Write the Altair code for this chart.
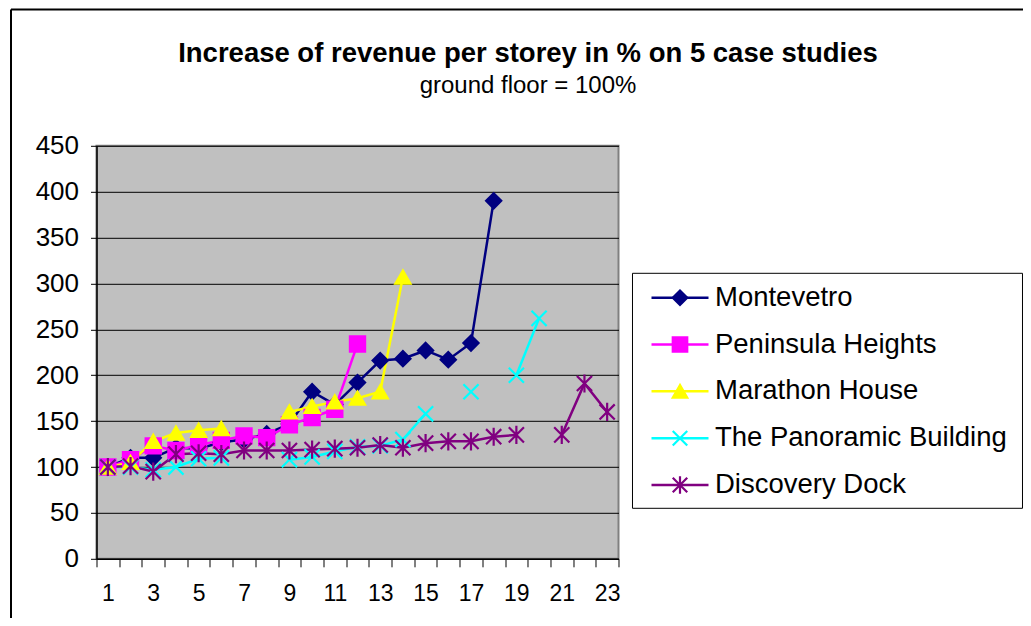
import altair as alt
import pandas as pd

floors = list(range(1, 24))
series_names = ["Montevetro", "Peninsula Heights", "Marathon House",
                "The Panoramic Building", "Discovery Dock"]
N = None
montevetro = [100, 110, 110, 121, 120, 127, 130, 136, 147, 182, 168, 192, 216, 218, 227, 217, 235, 390, N, N, N, N, N]
peninsula = [100, 108, 123, 118, 124, 129, 134, 132, 146, 154, 163, 234, N, N, N, N, N, N, N, N, N, N, N]
marathon = [100, 105, 128, 137, 140, 142, N, N, 160, 166, 171, 175, 182, 307, N, N, N, N, N, N, N, N, N]
panoramic = [100, 100, 97, 100, 109, 110, N, N, 108, 111, 117, 122, 123, 130, 158, N, 182, N, 200, 262, N, N, N]
discovery = [100, 101, 95, 114, 115, 114, 118, 118, 118, 119, 120, 121, 124, 121, 126, 128, 128, 133, 135, N, 135, 191, 160]
series_values = [montevetro, peninsula, marathon, panoramic, discovery]

colors = ["#000080", "#FF00FF", "#FFFF00", "#00FFFF", "#800080"]
shapes = ["diamond", "square", "triangle-up",
          "M-1,-1L1,1M-1,1L1,-1",
          "M-1,-1L1,1M-1,1L1,-1M0,-1.2L0,1.2"]
y_ticks = list(range(0, 451, 50))
title_text = "Increase of revenue per storey in % on 5 case studies"
subtitle_text = "ground floor = 100%"
FONT = "Liberation Sans"

rows = []
for si, (name, vals) in enumerate(zip(series_names, series_values)):
    seg = 0
    for f, v in zip(floors, vals):
        if v is None:
            seg += 1
            continue
        rows.append({"series": name, "order": si, "floor": f, "value": v,
                     "seg": f"{name}-{seg}"})
df = pd.DataFrame(rows)

color_scale = alt.Scale(domain=series_names, range=colors)
shape_scale = alt.Scale(domain=series_names, range=shapes)

x_enc = alt.X("floor:O", bandPosition=0.5,
              scale=alt.Scale(type="band", domain=floors, paddingInner=0, paddingOuter=0),
              axis=alt.Axis(title=None, tickBand="extent", labelAngle=0, grid=False,
                            labelExpr="datum.value % 2 == 1 ? datum.label : ''",
                            labelOverlap=False, domainColor="black", tickColor="black",
                            tickSize=8, labelFontSize=23, labelPadding=16,
                            labelFont=FONT, labelColor="black", domainWidth=1.5))
y_enc = alt.Y("value:Q", scale=alt.Scale(domain=[0, 450], nice=False, zero=True),
              axis=alt.Axis(title=None, values=y_ticks, grid=True, gridColor="black",
                            gridWidth=1, domainColor="black", tickColor="black",
                            tickSize=6, labelFontSize=26, labelPadding=12,
                            labelFont=FONT, labelColor="black", domainWidth=1.5))

base = alt.Chart(df)
lines = base.mark_line(strokeWidth=2.5).encode(
    x=x_enc, y=y_enc,
    color=alt.Color("series:N", scale=color_scale, legend=None),
    detail="seg:N",
)
points = base.mark_point(filled=True, size=230, strokeWidth=2.2, opacity=1).encode(
    x=x_enc, y=y_enc,
    color=alt.Color("series:N", scale=color_scale, legend=None),
    stroke=alt.Stroke("series:N", scale=color_scale, legend=None),
    shape=alt.Shape("series:N", scale=shape_scale, legend=None),
    order=alt.Order("order:Q"),
)
main = alt.layer(lines, points)

# legend (manual, built from the series names)
leg_df = pd.DataFrame({"series": series_names})
leg_y = alt.Y("series:N", axis=None,
              scale=alt.Scale(type="point", domain=series_names, range=[151.9, 339.2], padding=0))
leg_base = alt.Chart(leg_df)
leg_box = alt.Chart(pd.DataFrame({"a": [0]})).mark_rect(
    fill="white", stroke="black", strokeWidth=1).encode(
    x=alt.value(536), x2=alt.value(926), y=alt.value(127.5), y2=alt.value(362.5))
leg_line = leg_base.mark_rule(strokeWidth=2.5).encode(
    x=alt.value(555), x2=alt.value(612), y=leg_y,
    color=alt.Color("series:N", scale=color_scale, legend=None))
leg_pts = leg_base.mark_point(filled=True, size=210, strokeWidth=2.2, opacity=1).encode(
    x=alt.value(583.5), y=leg_y,
    color=alt.Color("series:N", scale=color_scale, legend=None),
    stroke=alt.Stroke("series:N", scale=color_scale, legend=None),
    shape=alt.Shape("series:N", scale=shape_scale, legend=None))
leg_txt = leg_base.mark_text(align="left", baseline="middle", fontSize=27.5, font=FONT,
                             color="black").encode(
    x=alt.value(618.5), y=leg_y, text="series:N")
legend = alt.layer(leg_line, leg_pts, leg_txt)

# titles
one = pd.DataFrame({"t": [title_text], "s": [subtitle_text]})
title = alt.Chart(one).mark_text(align="center", baseline="alphabetic", fontSize=27.5,
                                 fontWeight="bold", font=FONT, color="black").encode(
    x=alt.value(431.5), y=alt.value(-83.8), text="t:N")
subtitle = alt.Chart(one).mark_text(align="center", baseline="alphabetic", fontSize=24,
                                    font=FONT, color="black").encode(
    x=alt.value(431.5), y=alt.value(-52.8), text="s:N")

# outer frame
frame_left = alt.Chart(pd.DataFrame({"a": [0]})).mark_rule(color="black", strokeWidth=2).encode(
    x=alt.value(-85.5), y=alt.value(-136.3), y2=alt.value(480))
frame_top = alt.Chart(pd.DataFrame({"a": [0]})).mark_rule(color="black", strokeWidth=2).encode(
    x=alt.value(-85.5), x2=alt.value(930), y=alt.value(-136.3))

chart = alt.layer(
    frame_left, frame_top, title, subtitle, leg_box, main, legend
).resolve_scale(y="independent").properties(
    width=522, height=413,
    autosize=alt.AutoSizeParams(type="none"),
    padding={"left": 88.5, "top": 137.8, "right": 404.5, "bottom": 59},
    background="white",
).configure_view(fill="#C0C0C0", stroke="#808080", strokeWidth=2)

chart.save("out.html", embed_options={"renderer": "svg", "actions": False})
